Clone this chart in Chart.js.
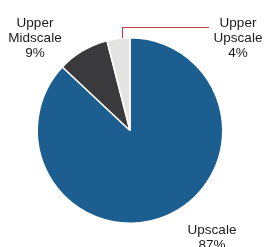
<!DOCTYPE html>
<html lang="en">
<head>
    <meta charset="UTF-8">
    <title>Segment Share</title>
    <style>
        body {
            margin: 0;
            background-color: #fff;
        }
        #wrap {
            width: 264px;
            height: 247px;
        }
    </style>
</head>
<body>
    <div id="wrap">
        <canvas id="segmentChart" width="264" height="247"></canvas>
    </div>

    <script src="https://cdn.jsdelivr.net/npm/chart.js"></script>
    <script>
        const segments = ['Upscale', 'Upper Midscale', 'Upper Upscale'];
        const shares = [87, 9, 4];
        const sliceColors = ['#1b5e8f', '#3a3a3c', '#e3e4e2'];

        // where each label sits (text lines are centred on x)
        const labelSpots = [
            { x: 212, y: 230 },
            { x: 35, y: 23 },
            { x: 238, y: 23 }
        ];

        const labelPlugin = {
            id: 'outsideLabels',
            afterDraw(chart) {
                const ctx = chart.ctx;
                const arcs = chart.getDatasetMeta(0).data;
                ctx.save();

                // leader line for the small slice
                const arc = arcs[2];
                const ang = arc.endAngle - 0.35 * (arc.endAngle - arc.startAngle);
                const sx = arc.x + arc.outerRadius * Math.cos(ang);
                const sy = arc.y + arc.outerRadius * Math.sin(ang);
                ctx.strokeStyle = '#b8404f';
                ctx.lineWidth = 1.2;
                ctx.beginPath();
                ctx.moveTo(Math.round(sx) + 0.5, sy);
                ctx.lineTo(Math.round(sx) + 0.5, 27.5);
                ctx.lineTo(209, 27.5);
                ctx.stroke();

                ctx.fillStyle = '#1a1a1a';
                ctx.font = '13.5px "Liberation Sans", Arial, sans-serif';
                ctx.textAlign = 'center';
                ctx.textBaseline = 'middle';
                segments.forEach((name, i) => {
                    const lines = name.split(' ');
                    lines.push(shares[i] + '%');
                    lines.forEach((t, j) => {
                        ctx.fillText(t, labelSpots[i].x, labelSpots[i].y + j * 15);
                    });
                });
                ctx.restore();
            }
        };

        new Chart(document.getElementById('segmentChart'), {
            type: 'pie',
            data: {
                labels: segments,
                datasets: [{
                    data: shares,
                    backgroundColor: sliceColors,
                    borderColor: '#ffffff',
                    borderWidth: 1.5
                }]
            },
            options: {
                responsive: false,
                animation: false,
                layout: {
                    padding: { left: 36, top: 37, right: 40, bottom: 23 }
                },
                plugins: {
                    legend: { display: false },
                    tooltip: { enabled: false }
                }
            },
            plugins: [labelPlugin]
        });
    </script>
</body>
</html>
